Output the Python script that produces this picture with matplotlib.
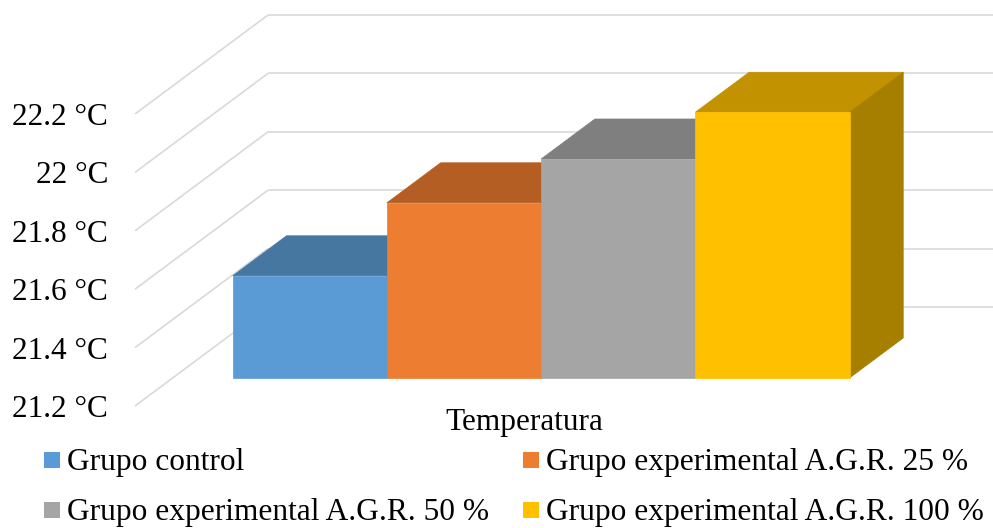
import matplotlib.pyplot as plt
from matplotlib.patches import Polygon, Rectangle

plt.rcParams['font.family'] = ['Liberation Serif', 'DejaVu Serif']

# data
categories = ['Temperatura']
series = ['Grupo control', 'Grupo experimental A.G.R. 25 %',
          'Grupo experimental A.G.R. 50 %', 'Grupo experimental A.G.R. 100 %']
values = [21.55, 21.80, 21.95, 22.11]
ticks = [21.2, 21.4, 21.6, 21.8, 22.0, 22.2]
tick_labels = ['21.2 °C', '21.4 °C', '21.6 °C', '21.8 °C', '22 °C', '22.2 °C']

front_colors = ['#5B9BD5', '#ED7D31', '#A5A5A5', '#FFC000']
top_colors = ['#4677A1', '#B45E23', '#7F7F7F', '#C29200']
side_colors = ['#3A6386', '#9A501E', '#6E6E6E', '#A67F00']
grid_color = '#D9D9D9'

W, H = 993, 528
fig = plt.figure(figsize=(W / 100, H / 100), dpi=100)
ax = fig.add_axes([0, 0, 1, 1])
ax.axis('off')

# front plane of the plot box, in pixels
x_left_px, x_right_px = 135, 872
y_lo_px, y_hi_px = 406, 114
vmin, vmax = ticks[0], ticks[-1]
sx = x_right_px - x_left_px
sy = (y_lo_px - y_hi_px) / (vmax - vmin)
ax.set_xlim(-0.5 - x_left_px / sx, -0.5 + (W - x_left_px) / sx)
ax.set_ylim(vmin - (H - y_lo_px) / sy, vmin + y_lo_px / sy)

# oblique depth vector (full depth of the box)
ddx, ddy = 133 / sx, 99 / sy
xl, xr = -0.5, 0.5

# walls: side gridlines and back gridlines
for v in ticks:
    ax.plot([xl, xl + ddx], [v, v + ddy], color=grid_color, lw=1.2, zorder=1,
            solid_capstyle='butt')
    ax.plot([xl + ddx, xr + ddx], [v + ddy, v + ddy], color=grid_color, lw=1.2,
            zorder=1, solid_capstyle='butt')

# value axis labels (baseline sits a little below the gridline)
for v, lab in zip(ticks, tick_labels):
    ax.text(xl - 27 / sx, v - 11 / sy, lab, ha='right', va='baseline',
            fontsize=22.5, color='black')

# 3d bars
gap_width = 0.78
bw = 1 / (len(values) + gap_width)
z0, z1 = 0.283, 0.687
for i, v in enumerate(values):
    x0 = xl + gap_width * bw / 2 + i * bw
    x1 = x0 + bw
    fx, fy = z0 * ddx, z0 * ddy
    bx, by = z1 * ddx, z1 * ddy
    top = Polygon([(x0 + fx, v + fy), (x1 + fx, v + fy),
                   (x1 + bx, v + by), (x0 + bx, v + by)],
                  closed=True, facecolor=top_colors[i], edgecolor=top_colors[i],
                  lw=0.5, zorder=2 + i)
    side = Polygon([(x1 + fx, vmin + fy), (x1 + bx, vmin + by),
                    (x1 + bx, v + by), (x1 + fx, v + fy)],
                   closed=True, facecolor=side_colors[i], edgecolor=side_colors[i],
                   lw=0.5, zorder=2 + i)
    front = Rectangle((x0 + fx, vmin + fy), bw, v - vmin,
                      facecolor=front_colors[i], edgecolor=front_colors[i],
                      lw=0.5, zorder=2 + i)
    for p in (top, side, front):
        ax.add_patch(p)

# category label
fig.text(524 / W, 1 - 430 / H, categories[0], ha='center', va='baseline',
         fontsize=22.5)

# legend
leg_pos = [(44, 460), (523, 460), (44, 510), (523, 510)]
for (lx, ly), name, col in zip(leg_pos, series, front_colors):
    fig.patches.append(Rectangle((lx / W, 1 - (ly + 8) / H), 16 / W, 16 / H,
                                 transform=fig.transFigure, facecolor=col,
                                 edgecolor='none'))
    fig.text((lx + 23) / W, 1 - (ly + 10) / H, name, ha='left', va='baseline',
             fontsize=22.6)

fig.savefig('out.png', dpi=100)
